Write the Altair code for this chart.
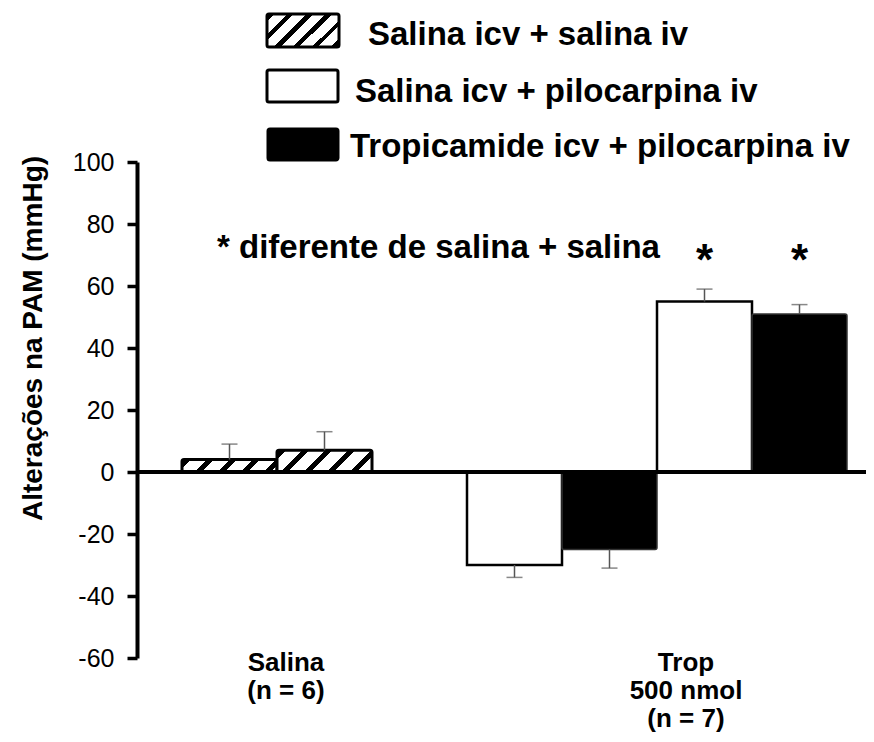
import altair as alt
import numpy as np
import pandas as pd

# ---------------- data ----------------
slots = ["Salina-1", "Salina-2", "gap", "Trop-1", "Trop-2", "Trop-3", "Trop-4"]
bar_slot = ["Salina-1", "Salina-2", "Trop-1", "Trop-2", "Trop-3", "Trop-4"]
bar_series = [
    "Salina icv + salina iv",
    "Salina icv + salina iv",
    "Salina icv + pilocarpina iv",
    "Tropicamide icv + pilocarpina iv",
    "Salina icv + pilocarpina iv",
    "Tropicamide icv + pilocarpina iv",
]
bar_value = [4, 7, -30, -25, 55, 51]
bar_sem = [5, 6, 4, 6, 4, 3]
y_ticks = [-60, -40, -20, 0, 20, 40, 60, 80, 100]
group_slot = ["Salina-2", "Trop-3"]
group_label = [["Salina", "(n = 6)"], ["Trop", "500 nmol", "(n = 7)"]]
star_slot = ["Trop-3", "Trop-4"]
star_level = 63.5
legend_labels = [
    "Salina icv + salina iv",
    "Salina icv + pilocarpina iv",
    "Tropicamide icv + pilocarpina iv",
]
note_text = "* diferente de salina + salina"

# ---------------- layout ----------------
FONT = "Liberation Sans"
W_VIEW, H_VIEW = 725, 496
Y_MIN, Y_MAX = -60, 100
PX = H_VIEW / (Y_MAX - Y_MIN)
STEP = 95

df = pd.DataFrame({"slot": bar_slot, "series": bar_series, "value": bar_value, "sem": bar_sem})
df["end"] = df["value"] + np.sign(df["value"]) * df["sem"]
df["base"] = 0


def hatch(W, H, period, dark, phase=2.0):
    L = W + H
    b = H / W
    s = L / (W * (1 + b * b))
    stops = [{"offset": 0, "color": "white"}]
    pos = phase
    while pos < L:
        a = round(max(pos, 0) / L, 5)
        e = round(min(pos + dark, L) / L, 5)
        if e > a:
            stops += [
                {"offset": a, "color": "white"},
                {"offset": a, "color": "black"},
                {"offset": e, "color": "black"},
                {"offset": e, "color": "white"},
            ]
        pos += period
    stops.append({"offset": 1, "color": "white"})
    return {"gradient": "linear", "x1": 0, "y1": 0, "x2": round(s, 5), "y2": round(s * b, 5), "stops": stops}


x_scale = alt.Scale(domain=slots, paddingInner=0, paddingOuter=0.3158, align=0.75)
x_enc = alt.X("slot:N", scale=x_scale, axis=None)
y_scale = alt.Scale(domain=[Y_MIN, Y_MAX], nice=False, zero=False)
y_axis = alt.Axis(
    values=y_ticks,
    labelExpr="'' + datum.value",
    grid=False,
    domainWidth=4,
    domainColor="black",
    tickWidth=3.5,
    tickColor="black",
    tickSize=10,
    labelFont=FONT,
    labelFontSize=25,
    labelColor="black",
    labelPadding=13,
    title="Alterações na PAM (mmHg)",
    titleFont=FONT,
    titleFontSize=28,
    titleFontWeight="bold",
    titleColor="black",
    titleAngle=270,
    titleAlign="center",
    titleBaseline="middle",
    titleX=-104,
    titleY=176,
)
y_val = alt.Y("value:Q", scale=y_scale, axis=y_axis)

base = alt.Chart(df)
layers = []

# hatched bars (one gradient per bar so the stripes keep their angle)
for s_name, ser, v in zip(bar_slot, bar_series, bar_value):
    if ser != "Salina icv + salina iv":
        continue
    layers.append(
        base.transform_filter(alt.datum.slot == s_name)
        .mark_bar(fill=hatch(STEP, abs(v) * PX, 23, 7), stroke="black", strokeWidth=3, cornerRadius=2)
        .encode(x=x_enc, y=y_val, y2="base:Q")
    )

layers.append(
    base.transform_filter(alt.datum.series == "Salina icv + pilocarpina iv")
    .mark_bar(fill="white", stroke="black", strokeWidth=2.5)
    .encode(x=x_enc, y=y_val, y2="base:Q")
)
layers.append(
    base.transform_filter(alt.datum.series == "Tropicamide icv + pilocarpina iv")
    .mark_bar(fill="black", stroke="#333333", strokeWidth=1.5, cornerRadius=2)
    .encode(x=x_enc, y=y_val, y2="base:Q")
)

# error bars (one-sided)
layers.append(
    base.mark_rule(color="#555555", strokeWidth=1.5).encode(
        x=x_enc, y=alt.Y("end:Q", scale=y_scale, axis=y_axis), y2="value:Q"
    )
)
layers.append(
    base.mark_tick(color="#555555", size=16, thickness=1.5).encode(
        x=x_enc, y=alt.Y("end:Q", scale=y_scale, axis=y_axis)
    )
)

# zero line
one = pd.DataFrame({"k": [0]})
layers.append(
    alt.Chart(one)
    .mark_rule(color="black", strokeWidth=4)
    .encode(y=alt.Y(datum=0, type="quantitative", scale=y_scale, axis=y_axis), x=alt.value(0), x2=alt.value(729))
)

# significance stars
star_df = pd.DataFrame({"slot": star_slot, "star": ["*"] * len(star_slot)})
layers.append(
    alt.Chart(star_df)
    .mark_text(font=FONT, fontSize=44, fontWeight="bold", baseline="alphabetic", align="center", color="black")
    .encode(x=x_enc, y=alt.Y(datum=star_level, type="quantitative", scale=y_scale, axis=y_axis), text="star:N")
)

# group labels under the axis
lab_df = pd.DataFrame({"slot": group_slot, "label": group_label})
for s_name, dx in zip(group_slot, [9, 29]):
    layers.append(
        alt.Chart(lab_df)
        .transform_filter(alt.datum.slot == s_name)
        .mark_text(font=FONT, fontSize=26, fontWeight="bold", align="center", baseline="alphabetic",
                   lineHeight=28, dx=dx, color="black")
        .encode(x=alt.X("slot:N", scale=x_scale, axis=None, bandPosition=0), y=alt.value(509), text="label")
    )

# note
layers.append(
    alt.Chart(one)
    .mark_text(font=FONT, fontSize=33, fontWeight="bold", align="left", baseline="alphabetic", color="black")
    .encode(x=alt.value(80), y=alt.value(96), text=alt.value(note_text))
)

# legend
sw = [(130, 202, -148, -115), (130, 201, -92, -60), (131, 201, -33, -2)]
fills = [hatch(72, 33, 19, 6), "white", "black"]
txt_pos = [(231, -117), (218, -60), (213, -5)]
for (x0, x1, y0, y1), f, (tx, ty), lab in zip(sw, fills, txt_pos, legend_labels):
    layers.append(
        alt.Chart(one)
        .mark_rect(fill=f, stroke="black", strokeWidth=3, cornerRadius=2)
        .encode(x=alt.value(x0), x2=alt.value(x1), y=alt.value(y0), y2=alt.value(y1))
    )
    layers.append(
        alt.Chart(one)
        .mark_text(font=FONT, fontSize=33, fontWeight="bold", align="left", baseline="alphabetic", color="black")
        .encode(x=alt.value(tx), y=alt.value(ty), text=alt.value(lab))
    )

chart = (
    alt.layer(*layers)
    .properties(
        width=W_VIEW,
        height=H_VIEW,
        padding={"left": 129, "top": 154, "right": 4, "bottom": 76},
        autosize=alt.AutoSizeParams(type="none"),
    )
    .configure_view(stroke=None)
)

chart.save("out.html", embed_options={"renderer": "svg", "actions": False})
